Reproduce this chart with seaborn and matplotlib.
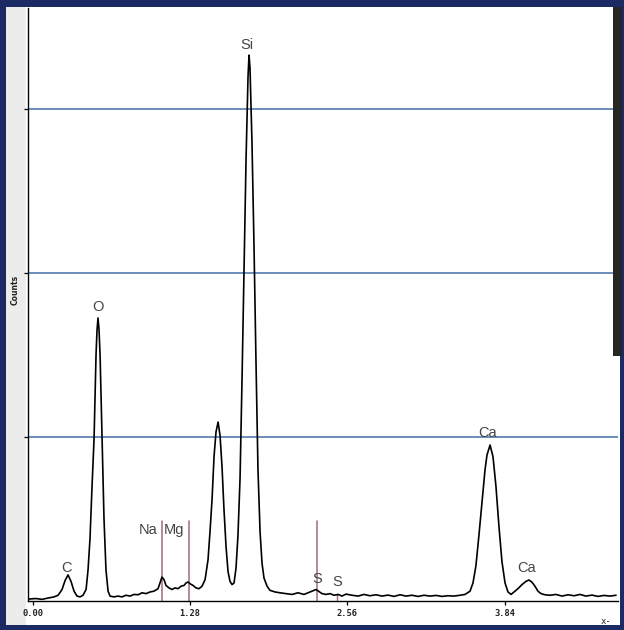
import matplotlib
matplotlib.use("Agg")
import matplotlib.pyplot as plt
from matplotlib.patches import Rectangle
import seaborn as sns
import pandas as pd

# ---------------- data ----------------
energy_kev = [-0.033, 0.024, 0.073, 0.122, 0.171, 0.204, 0.236, 0.261, 0.285, 0.309,
              0.334, 0.358, 0.383, 0.407, 0.432, 0.448, 0.464, 0.480, 0.497, 0.513,
              0.521, 0.529, 0.537, 0.546, 0.562, 0.578, 0.594, 0.611, 0.627, 0.660,
              0.692, 0.725, 0.757, 0.790, 0.822, 0.855, 0.888, 0.920, 0.953, 0.985,
              1.018, 1.034, 1.050, 1.067, 1.083, 1.107, 1.132, 1.156, 1.181, 1.205,
              1.230, 1.246, 1.262, 1.279, 1.303, 1.327, 1.352, 1.376, 1.401, 1.425,
              1.441, 1.458, 1.474, 1.490, 1.507, 1.523, 1.539, 1.555, 1.572, 1.588,
              1.604, 1.621, 1.637, 1.653, 1.669, 1.686, 1.702, 1.718, 1.735, 1.751,
              1.759, 1.767, 1.783, 1.800, 1.816, 1.832, 1.849, 1.865, 1.881, 1.906,
              1.930, 1.971, 2.011, 2.060, 2.109, 2.158, 2.207, 2.256, 2.288, 2.305,
              2.321, 2.353, 2.386, 2.419, 2.451, 2.484, 2.516, 2.549, 2.598, 2.647,
              2.695, 2.744, 2.793, 2.842, 2.891, 2.940, 2.989, 3.037, 3.086, 3.135,
              3.184, 3.233, 3.282, 3.331, 3.379, 3.428, 3.477, 3.518, 3.559, 3.583,
              3.607, 3.632, 3.656, 3.681, 3.697, 3.722, 3.746, 3.770, 3.795, 3.819,
              3.844, 3.868, 3.893, 3.917, 3.949, 3.982, 4.015, 4.039, 4.063, 4.088,
              4.112, 4.137, 4.169, 4.210, 4.259, 4.308, 4.357, 4.406, 4.454, 4.503,
              4.552, 4.601, 4.650, 4.699, 4.748]
counts = [12, 15, 10, 18, 25, 35, 70, 125, 159, 120,
          60, 30, 25, 35, 70, 190, 380, 690, 990, 1500,
          1650, 1726, 1660, 1500, 990, 500, 190, 60, 30, 25,
          30, 25, 35, 30, 40, 38, 50, 45, 55, 60,
          75, 110, 146, 130, 95, 80, 70, 80, 75, 90,
          95, 110, 116, 105, 95, 80, 75, 90, 130, 250,
          420, 620, 880, 1030, 1091, 1010, 820, 560, 330, 180,
          120, 100, 110, 200, 400, 750, 1350, 2000, 2700, 3200,
          3329, 3250, 2800, 2150, 1450, 800, 420, 230, 140, 90,
          65, 55, 50, 45, 40, 50, 40, 55, 65, 70,
          62, 45, 40, 45, 35, 40, 30, 42, 35, 30,
          40, 32, 38, 30, 36, 28, 38, 30, 35, 28,
          35, 30, 34, 28, 32, 30, 35, 40, 60, 110,
          215, 405, 600, 800, 890, 951, 880, 700, 450, 240,
          110, 55, 40, 55, 75, 100, 120, 128, 115, 90,
          60, 45, 38, 35, 40, 30, 38, 32, 40, 30,
          36, 28, 34, 30, 35]

peak_labels = ["Si", "O", "C", "Na", "Mg", "S", "S", "Ca", "Ca"]
label_kev = [1.743, 0.529, 0.269, 0.936, 1.152, 2.313, 2.476, 3.705, 4.023]
label_counts = [3390, 1793, 201, 433, 433, 134, 116, 1024, 201]

marker_kev = [1.050, 1.270, 2.313]
marker_top = [490, 490, 490]

xtick_values = [0.00, 1.28, 2.56, 3.84]
xtick_labels = ["0.00", "1.28", "2.56", "3.84"]
grid_levels = [1000, 2000, 3000]

df = pd.DataFrame({"keV": energy_kev, "Counts": counts})

# ---------------- figure ----------------
W, H = 624, 630
fig = plt.figure(figsize=(W / 100, H / 100), dpi=100, facecolor="#1b2a62")
sns.set_style("white")

# white panel and light left strip
fig.add_artist(Rectangle((6 / W, 1 - 625 / H), (620 - 6) / W, (625 - 7) / H,
                         transform=fig.transFigure, facecolor="white",
                         edgecolor="none", zorder=-5))
fig.add_artist(Rectangle((6 / W, 1 - 625 / H), (26 - 6) / W, (625 - 7) / H,
                         transform=fig.transFigure, facecolor="#ececec",
                         edgecolor="none", zorder=-4))

ax = fig.add_axes([28 / W, (H - 601) / H, (618 - 28) / W, (601 - 8) / H])
ax.set_facecolor("white")

sns.lineplot(data=df, x="keV", y="Counts", ax=ax, color="black",
             linewidth=1.2, estimator=None, sort=True)

ax.set_xlim(-0.041, 4.764)
ax.set_ylim(0, 3616)

# gridlines
ax.set_yticks(grid_levels)
ax.set_yticklabels([])
ax.yaxis.grid(True, color="#5f86b5", linewidth=1.3)
ax.xaxis.grid(False)
ax.set_axisbelow(True)

ax.set_xticks(xtick_values)
ax.set_xticklabels(xtick_labels, fontfamily="DejaVu Sans Mono",
                   fontweight="bold", fontsize=6.3, color="#222222")
ax.tick_params(axis="x", direction="out", length=3, width=0.9, pad=3,
               bottom=True, color="black")
ax.tick_params(axis="y", direction="out", length=3, width=0.9, left=True,
               color="black")

for s in ["top", "right"]:
    ax.spines[s].set_visible(False)
for s in ["left", "bottom"]:
    ax.spines[s].set_color("black")
    ax.spines[s].set_linewidth(1.0)

ax.set_xlabel("")
ax.set_ylabel("")

# element marker lines
for xv, top in zip(marker_kev, marker_top):
    ax.plot([xv, xv], [0, top], color="#a26b79", linewidth=1.1, zorder=1.5)
ax.plot([2.476, 2.476], [0, 40], color="#a26b79", linewidth=1.0, zorder=1.5)

# element labels
for lab, xv, yv in zip(peak_labels, label_kev, label_counts):
    ax.text(xv, yv, lab, ha="center", va="center", fontsize=10.5,
            color="#444444", fontfamily="Liberation Sans", zorder=4)

# axis texts
fig.text(15 / W, 1 - 290 / H, "Counts", rotation=90, ha="center", va="center",
         fontsize=5.5, fontweight="bold", color="#222222")
fig.text(606 / W, 1 - 621 / H, "x-", ha="center", va="center",
         fontsize=6.5, fontfamily="DejaVu Sans Mono", color="#222222")

# dark bar at the right edge
fig.add_artist(Rectangle((613 / W, 1 - 356 / H), (622 - 613) / W, (356 - 7) / H,
                         transform=fig.transFigure, facecolor="#262626",
                         edgecolor="none", zorder=5))

fig.savefig("out.png", dpi=100, facecolor=fig.get_facecolor())
